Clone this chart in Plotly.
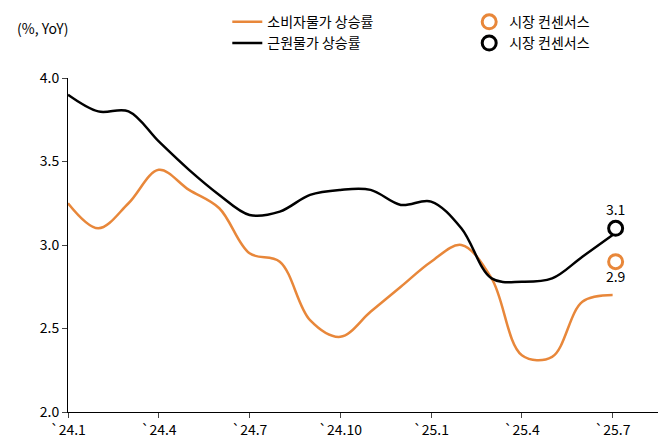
import plotly.graph_objects as go

months = list(range(19))
tick_vals = [0, 3, 6, 9, 12, 15, 18]
tick_text = ["`24.1", "`24.4", "`24.7", "`24.10", "`25.1", "`25.4", "`25.7"]

cpi = [3.25, 3.1, 3.25, 3.45, 3.33, 3.22, 2.95, 2.9, 2.55, 2.45, 2.6, 2.75,
       2.9, 3.0, 2.8, 2.34, 2.33, 2.66, 2.7]
core = [3.9, 3.8, 3.8, 3.62, 3.45, 3.3, 3.18, 3.2, 3.3, 3.33, 3.33, 3.24,
        3.26, 3.1, 2.8, 2.78, 2.8, 2.93, 3.06]
cons_x = 18.1
cpi_cons = 2.9
core_cons = 3.1

orange = "#E8873A"
font = "Noto Sans CJK KR"

fig = go.Figure()
fig.add_trace(go.Scatter(x=months, y=cpi, mode="lines", name="소비자물가 상승률",
                         line=dict(color=orange, width=2.5, shape="spline"), legend="legend"))
fig.add_trace(go.Scatter(x=months, y=core, mode="lines", name="근원물가 상승률",
                         line=dict(color="black", width=2.5, shape="spline"), legend="legend"))
fig.add_trace(go.Scatter(x=[cons_x], y=[cpi_cons], mode="markers+text", name="시장 컨센서스",
                         marker=dict(symbol="circle-open", size=14, color=orange, line=dict(width=3)),
                         text=[f"{cpi_cons}"], textposition="bottom center",
                         textfont=dict(size=14, color="black"), legend="legend2"))
fig.add_trace(go.Scatter(x=[cons_x], y=[core_cons], mode="markers+text", name="시장 컨센서스",
                         marker=dict(symbol="circle-open", size=14, color="black", line=dict(width=3)),
                         text=[f"{core_cons}"], textposition="top center",
                         textfont=dict(size=14, color="black"), legend="legend2"))

fig.update_layout(
    width=666, height=445,
    margin=dict(l=60, r=16, t=70, b=41, autoexpand=False),
    plot_bgcolor="white", paper_bgcolor="white",
    font=dict(family=font, size=14, color="black"),
    legend=dict(x=0.27, y=1.215, xanchor="left", yanchor="top", orientation="v",
                font=dict(size=14), tracegroupgap=0, bgcolor="rgba(0,0,0,0)"),
    legend2=dict(x=0.68, y=1.215, xanchor="left", yanchor="top", orientation="v",
                 font=dict(size=14), bgcolor="rgba(0,0,0,0)"),
    annotations=[dict(text="(%, YoY)", x=-0.09, y=1.15, xref="paper", yref="paper",
                      xanchor="left", yanchor="middle", showarrow=False, font=dict(size=14))],
)
fig.update_xaxes(range=[0, 19.5], tickvals=tick_vals, ticktext=tick_text, showgrid=False,
                 showline=True, linecolor="black", ticks="outside", ticklen=5, zeroline=False)
fig.update_yaxes(range=[2.0, 4.0], dtick=0.5, tickformat=".1f", showgrid=False,
                 showline=True, linecolor="black", ticks="outside", ticklen=5, zeroline=False)

fig.write_html("out.html")
